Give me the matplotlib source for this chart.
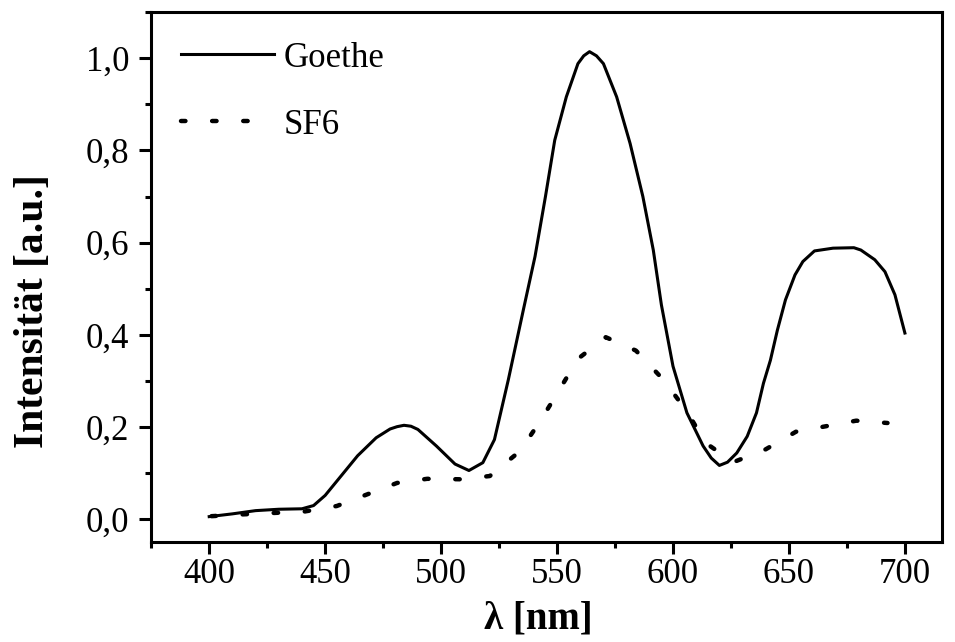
import matplotlib
matplotlib.use("Agg")
import matplotlib.pyplot as plt
from matplotlib.ticker import MultipleLocator

# --- data ---
goethe_nm = [400, 410, 420, 430, 440, 445, 450, 457, 464, 472, 478, 481, 484, 487,
             490, 498, 506, 512, 518, 523, 529, 535.5, 540.5, 545, 549, 554, 559,
             561.5, 564, 567, 570, 575.7, 581.5, 587, 591.5, 595, 600, 606, 613,
             616.5, 620, 623.5, 627.5, 632, 636, 639, 642, 645, 648.5, 652.6, 656,
             661, 669, 678, 681, 687, 691.4, 695.7, 700]
goethe_int = [0.006, 0.012, 0.019, 0.022, 0.023, 0.030, 0.052, 0.095, 0.138, 0.177,
              0.196, 0.201, 0.204, 0.202, 0.195, 0.159, 0.120, 0.106, 0.123, 0.173,
              0.303, 0.455, 0.570, 0.700, 0.822, 0.916, 0.988, 1.005, 1.014, 1.005,
              0.988, 0.916, 0.815, 0.700, 0.584, 0.465, 0.332, 0.231, 0.159, 0.133,
              0.117, 0.124, 0.144, 0.180, 0.231, 0.295, 0.345, 0.410, 0.476, 0.530,
              0.559, 0.582, 0.588, 0.589, 0.584, 0.563, 0.537, 0.487, 0.404]

sf6_nm = [401, 415, 428, 441, 455, 468, 481, 494, 508, 521, 534, 543, 551, 559,
          571, 584, 596, 606, 614, 626, 640, 653, 666, 679, 692.5]
sf6_int = [0.007, 0.011, 0.014, 0.017, 0.029, 0.054, 0.079, 0.088, 0.087, 0.094,
           0.148, 0.215, 0.281, 0.348, 0.395, 0.366, 0.302, 0.234, 0.166, 0.124,
           0.152, 0.190, 0.202, 0.214, 0.209]

y_ticks = [0.0, 0.2, 0.4, 0.6, 0.8, 1.0]
y_ticklabels = ["0,0", "0,2", "0,4", "0,6", "0,8", "1,0"]
x_ticks = [400, 450, 500, 550, 600, 650, 700]

plt.rcParams['font.family'] = ['Liberation Serif', 'DejaVu Serif']

W, H = 955, 642
fig = plt.figure(figsize=(W / 100, H / 100), dpi=100)
# axes box in pixels: left 151, right 942, top 12, bottom 542
ax = fig.add_axes([151 / W, (H - 542) / H, (942 - 151) / W, (542 - 12) / H])

ax.plot(goethe_nm, goethe_int, color='black', lw=2.2, label='Goethe')
sf6_line, = ax.plot(sf6_nm, sf6_int, color='black', lw=3.2, label='SF6',
                    dash_capstyle='round')
sf6_line.set_dashes((1.0, 6.0))

ax.set_xlim(374.9, 716.0)
ax.set_ylim(-0.049, 1.100)
ax.set_xticks(x_ticks)
ax.set_yticks(y_ticks)
ax.set_yticklabels(y_ticklabels)
ax.xaxis.set_minor_locator(MultipleLocator(25))
ax.yaxis.set_minor_locator(MultipleLocator(0.1))

for s in ax.spines.values():
    s.set_linewidth(2.2)
ax.tick_params(which='major', direction='out', length=8.6, width=2.2, labelsize=25)
ax.tick_params(which='minor', direction='out', length=4.3, width=2.2)
ax.tick_params(axis='x', which='major', pad=3)
ax.tick_params(axis='y', which='major', pad=7)

ax.set_xlabel("λ [nm]", fontsize=28, fontweight='bold')
ax.xaxis.set_label_coords(0.49, -0.11)
ax.set_ylabel("Intensität [a.u.]", fontsize=30, fontweight='bold')
ax.yaxis.set_label_coords(-0.125, 0.436)

ax.legend(loc='upper left', frameon=False, fontsize=25, handlelength=2.68,
          handletextpad=0.3, labelspacing=0.98, borderaxespad=0.45)

fig.savefig("out.png", dpi=100)
